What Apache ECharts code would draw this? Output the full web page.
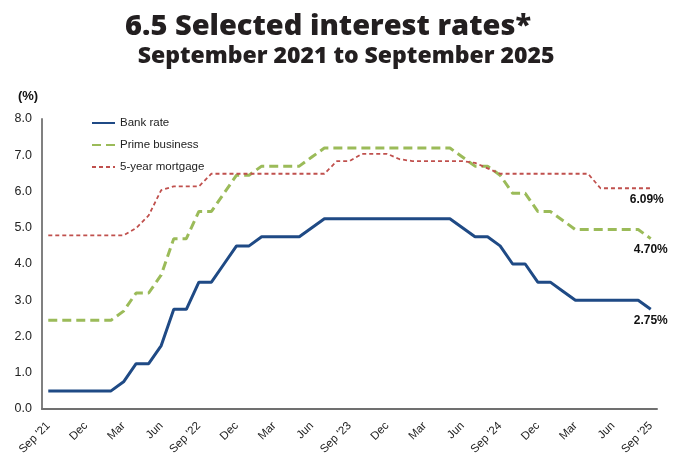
<!DOCTYPE html>
<html>
<head>
<meta charset="utf-8">
<script src="https://cdn.jsdelivr.net/npm/echarts@6/dist/echarts.min.js"></script>
<style>
html, body { margin: 0; padding: 0; background: #fff; }
#chart { width: 681px; height: 453px; }
</style>
</head>
<body>
<div id="chart"></div>
<script>
// monthly, Sep 2021 .. Sep 2025
const months = [
  "Sep '21", 'Oct', 'Nov', 'Dec', 'Jan', 'Feb', 'Mar', 'Apr', 'May', 'Jun', 'Jul', 'Aug',
  "Sep '22", 'Oct', 'Nov', 'Dec', 'Jan', 'Feb', 'Mar', 'Apr', 'May', 'Jun', 'Jul', 'Aug',
  "Sep '23", 'Oct', 'Nov', 'Dec', 'Jan', 'Feb', 'Mar', 'Apr', 'May', 'Jun', 'Jul', 'Aug',
  "Sep '24", 'Oct', 'Nov', 'Dec', 'Jan', 'Feb', 'Mar', 'Apr', 'May', 'Jun', 'Jul', 'Aug',
  "Sep '25"
]

const bankRate = [
  0.5, 0.5, 0.5, 0.5, 0.5, 0.5, 0.75, 1.25, 1.25, 1.75, 2.75, 2.75,
  3.5, 3.5, 4.0, 4.5, 4.5, 4.75, 4.75, 4.75, 4.75, 5.0, 5.25, 5.25,
  5.25, 5.25, 5.25, 5.25, 5.25, 5.25, 5.25, 5.25, 5.25, 5.0, 4.75, 4.75,
  4.5, 4.0, 4.0, 3.5, 3.5, 3.25, 3.0, 3.0, 3.0, 3.0, 3.0, 3.0,
  2.75
]

const primeBusiness = [
  2.45, 2.45, 2.45, 2.45, 2.45, 2.45, 2.7, 3.2, 3.2, 3.7, 4.7, 4.7,
  5.45, 5.45, 5.95, 6.45, 6.45, 6.7, 6.7, 6.7, 6.7, 6.95, 7.2, 7.2,
  7.2, 7.2, 7.2, 7.2, 7.2, 7.2, 7.2, 7.2, 7.2, 6.95, 6.7, 6.7,
  6.45, 5.95, 5.95, 5.45, 5.45, 5.2, 4.95, 4.95, 4.95, 4.95, 4.95, 4.95,
  4.7
]

const mortgage5y = [
  4.79, 4.79, 4.79, 4.79, 4.79, 4.79, 4.79, 4.99, 5.34, 6.04, 6.14, 6.14,
  6.14, 6.49, 6.49, 6.49, 6.49, 6.49, 6.49, 6.49, 6.49, 6.49, 6.49, 6.84,
  6.84, 7.04, 7.04, 7.04, 6.89, 6.84, 6.84, 6.84, 6.84, 6.84, 6.79, 6.64,
  6.49, 6.49, 6.49, 6.49, 6.49, 6.49, 6.49, 6.49, 6.09, 6.09, 6.09, 6.09,
  6.09
]

const yTicks = ['0.0', '1.0', '2.0', '3.0', '4.0', '5.0', '6.0', '7.0', '8.0']

const labelFont = 'Liberation Sans, Arial, sans-serif'
const titleFont = '"Open Sans", "Noto Sans", sans-serif'

// only the last point gets a value label
function endLabel(values, dx) {
  return values.map((v, i) => i === values.length - 1
    ? { value: v, symbol: 'circle', symbolSize: 0.1,
        label: { show: true, position: 'bottom', distance: 5, offset: [dx, 0], formatter: v.toFixed(2) + '%',
          color: '#111', fontWeight: 'bold', fontSize: 12, fontFamily: labelFont } }
    : v)
}

const chart = echarts.init(document.getElementById('chart'))

chart.setOption({
  animation: false,
  graphic: [
    { type: 'text', x: 328, y: 12, style: { text: '6.5 Selected interest rates*', align: 'center',
      font: '800 29px ' + titleFont, fill: '#231f20' } },
    { type: 'text', x: 346, y: 45, style: { text: 'September 2021 to September 2025', align: 'center',
      font: '800 23px ' + titleFont, fill: '#231f20' } },
    { type: 'text', x: 28, y: 90, style: { text: '(%)', align: 'center',
      font: 'bold 13px ' + labelFont, fill: '#111' } },
  ],
  legend: {
    orient: 'vertical',
    left: 86,
    top: 112,
    itemWidth: 23,
    itemHeight: 12,
    itemGap: 10,
    itemStyle: { opacity: 0 },
    textStyle: { color: '#222', fontSize: 11.5, fontFamily: labelFont },
  },
  grid: { top: 119, right: 24, bottom: 44, left: 42, outerBoundsMode: 'none' },
  xAxis: {
    type: 'category',
    data: months,
    axisLine: { lineStyle: { color: '#707070', width: 2 } },
    axisTick: { show: false },
    axisLabel: { interval: 2, rotate: 45, margin: 15, color: '#222', fontSize: 11.5, fontFamily: labelFont },
  },
  yAxis: {
    type: 'value',
    min: 0,
    max: 8,
    interval: 1,
    axisLine: { show: true, lineStyle: { color: '#808080', width: 2 } },
    axisTick: { show: false },
    splitLine: { show: false },
    axisLabel: { color: '#222', fontSize: 12.5, fontFamily: labelFont, margin: 10,
      formatter: v => yTicks[Math.round(v)] },
  },
  series: [
    {
      name: 'Bank rate',
      type: 'line',
      data: endLabel(bankRate, 0),
      symbol: 'none',
      lineStyle: { color: '#1f4a85', width: 3 },
      itemStyle: { color: '#1f4a85' },
    },
    {
      name: 'Prime business',
      type: 'line',
      data: endLabel(primeBusiness, 0),
      symbol: 'none',
      lineStyle: { color: '#9bbb59', width: 3, type: [9, 5] },
      itemStyle: { color: '#9bbb59' },
    },
    {
      name: '5-year mortgage',
      type: 'line',
      data: endLabel(mortgage5y, -4),
      symbol: 'none',
      lineStyle: { color: '#c0504d', width: 1.8, type: [4, 3] },
      itemStyle: { color: '#c0504d' },
    },
  ],
})
</script>
</body>
</html>
